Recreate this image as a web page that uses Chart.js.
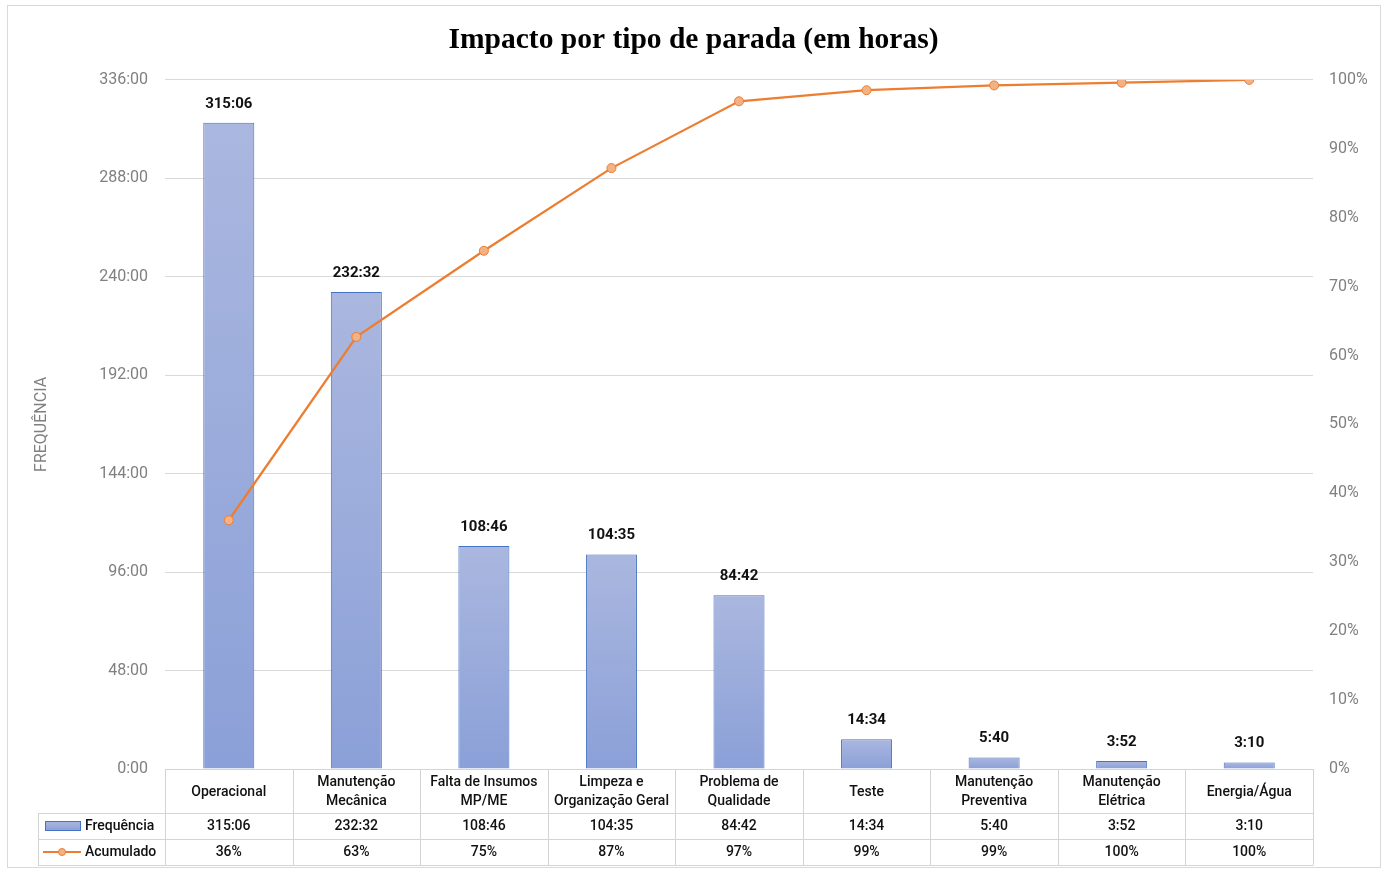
<!DOCTYPE html>
<html><head><meta charset="utf-8">
<script src="https://cdn.jsdelivr.net/npm/chart.js@4.4.1/dist/chart.umd.min.js"></script>
<style>html,body{margin:0;padding:0;background:#fff;overflow:hidden}#wrap{width:1387px;height:871px;position:relative}</style>
</head><body><div id="wrap"><canvas id="c"></canvas></div>
<script>
const categories = [["Operacional"],["Manutenção","Mecânica"],["Falta de Insumos","MP/ME"],["Limpeza e","Organização Geral"],["Problema de","Qualidade"],["Teste"],["Manutenção","Preventiva"],["Manutenção","Elétrica"],["Energia/Água"]];
const frequencyLabels = ["315:06","232:32","108:46","104:35","84:42","14:34","5:40","3:52","3:10"];
const cumulativePct = [36.1,62.7,75.2,87.2,96.9,98.5,99.2,99.6,100];
const cumulativeLabels = ["36%","63%","75%","87%","97%","99%","99%","100%","100%"];
const seriesNames = ["Frequência","Acumulado"];
const chartTitle = "Impacto por tipo de parada (em horas)";
const yAxisTitle = "FREQUÊNCIA";
const leftAxisMax = 336, leftAxisStep = 48;

function toHours(s){ const p = s.split(':').map(Number); return p[0] + p[1]/60; }
const frequencyHours = frequencyLabels.map(toHours);

const FONT = "Roboto";
const BAR_TOP = '#aab7df', BAR_BOT = '#8ba0d8', BAR_BORDER = '#4472c4';
const LINE = '#ed7d31', POINT = '#f4b183';

const framePlugin = {
  id:'frame',
  beforeDraw(chart){
    const c = chart.ctx;
    c.save();
    c.fillStyle='#fff'; c.fillRect(0,0,chart.width,chart.height);
    c.strokeStyle='#d9d9d9'; c.lineWidth=1;
    c.strokeRect(7.5,5.5,1373,862);
    c.restore();
  }
};

const barLabelPlugin = {
  id:'barLabels',
  afterDatasetsDraw(chart){
    const c = chart.ctx;
    const meta = chart.getDatasetMeta(0);
    c.save();
    c.font = `bold 15px ${FONT}`;
    c.fillStyle = '#111';
    c.textAlign='center'; c.textBaseline='middle';
    meta.data.forEach((el,i)=>{ c.fillText(frequencyLabels[i], el.x, el.y - 19); });
    c.restore();
  }
};

const tablePlugin = {
  id:'dataTable',
  afterDraw(chart){
    const c = chart.ctx, ca = chart.chartArea, xs = chart.scales.x;
    const n = categories.length;
    const cw = (ca.right - ca.left)/n;
    const r0 = ca.bottom, r1 = r0 + 44, r2 = r1 + 26, r3 = r2 + 26;
    const legL = 38;
    c.save();
    c.strokeStyle = '#d4d4d4'; c.lineWidth = 1;
    const h = (x1,x2,y)=>{ c.beginPath(); c.moveTo(x1,Math.round(y)+0.5); c.lineTo(x2,Math.round(y)+0.5); c.stroke(); };
    const v = (x,y1,y2)=>{ c.beginPath(); c.moveTo(Math.round(x)+0.5,y1); c.lineTo(Math.round(x)+0.5,y2); c.stroke(); };
    h(ca.left, ca.right, r0);
    h(legL, ca.right, r1); h(legL, ca.right, r2); h(legL, ca.right, r3);
    for(let i=0;i<=n;i++){ v(ca.left + i*cw, r0, r3+0.5); }
    v(legL, r1, r3+0.5);
    c.fillStyle = '#111';
    c.textAlign='center'; c.textBaseline='middle';
    c.font = `500 14px ${FONT}`;
    for(let i=0;i<n;i++){
      const x = xs.getPixelForValue(i);
      const lines = categories[i];
      const lh = 19;
      const cy = (r0 + r1)/2 + 1;
      lines.forEach((t,k)=>{ c.fillText(t, x, cy + (k - (lines.length-1)/2)*lh); });
      c.fillText(frequencyLabels[i], x, (r1+r2)/2);
      c.fillText(cumulativeLabels[i], x, (r2+r3)/2);
    }
    const y1 = (r1+r2)/2, y2 = (r2+r3)/2;
    const g = c.createLinearGradient(0,y1-5,0,y1+5); g.addColorStop(0,BAR_TOP); g.addColorStop(1,BAR_BOT);
    c.fillStyle = g; c.fillRect(45,y1-5,36,10);
    c.strokeStyle = BAR_BORDER; c.strokeRect(45.5,y1-4.5,35,9);
    c.strokeStyle = LINE; c.lineWidth = 2;
    c.beginPath(); c.moveTo(43,y2); c.lineTo(81,y2); c.stroke();
    c.beginPath(); c.arc(62,y2,3.5,0,Math.PI*2); c.fillStyle=POINT; c.fill(); c.lineWidth=1; c.stroke();
    c.fillStyle='#111'; c.textAlign='left';
    c.fillText(seriesNames[0], 85, y1);
    c.fillText(seriesNames[1], 85, y2);
    c.restore();
  }
};

function barGradient(ctx){
  const chart = ctx.chart, sc = chart.scales;
  if(!chart.chartArea || !sc || !sc.y || ctx.raw === undefined) return '#9aabdc';
  const top = sc.y.getPixelForValue(ctx.raw), bot = sc.y.getPixelForValue(0);
  if(!isFinite(top) || !isFinite(bot) || top===bot) return '#9aabdc';
  const g = chart.ctx.createLinearGradient(0, top, 0, bot);
  g.addColorStop(0, BAR_TOP); g.addColorStop(1, BAR_BOT);
  return g;
}

new Chart(document.getElementById('c'), {
  data: {
    labels: categories,
    datasets: [
      { type:'bar', label: seriesNames[0], data: frequencyHours, yAxisID:'y', order:1,
        backgroundColor: barGradient, borderColor: BAR_BORDER, borderWidth: 1,
        barPercentage: 0.4, categoryPercentage: 1.0 },
      { type:'line', label: seriesNames[1], data: cumulativePct, yAxisID:'y1', order:0,
        borderColor: LINE, borderWidth: 2.25, tension: 0,
        pointRadius: 4.5, pointBackgroundColor: POINT, pointBorderColor: LINE, pointBorderWidth: 1 }
    ]
  },
  options: {
    responsive: true, maintainAspectRatio: false, animation: false,
    layout: { padding: { top: 0, bottom: 102, left: 0, right: 0 } },
    plugins: {
      legend: { display: false },
      tooltip: { enabled: false },
      title: { display: true, text: chartTitle, color: '#000',
        font: { family: 'Liberation Serif', size: 29.5, weight: 'bold' },
        padding: { top: 22.5, bottom: 22 } }
    },
    scales: {
      x: { display: false },
      y: { position:'left', min:0, max:leftAxisMax,
        afterFit(s){ s.width = 165; },
        ticks: { stepSize: leftAxisStep, padding: 17, color:'#808080', font:{family:FONT,size:16},
          callback: v => v + ':00' },
        grid: { color:'#d9d9d9', drawTicks:false, lineWidth:1 },
        border: { display:false },
        title: { display:true, text:yAxisTitle, color:'#808080', font:{family:FONT,size:16}, padding:{top:32,bottom:0} } },
      y1: { position:'right', min:0, max:100,
        afterFit(s){ s.width = 74; },
        ticks: { stepSize: 10, padding: 16, color:'#808080', font:{family:FONT,size:16},
          callback: v => v + '%' },
        grid: { display:false, drawTicks:false },
        border: { display:false } }
    }
  },
  plugins: [framePlugin, barLabelPlugin, tablePlugin]
});
</script></body></html>
